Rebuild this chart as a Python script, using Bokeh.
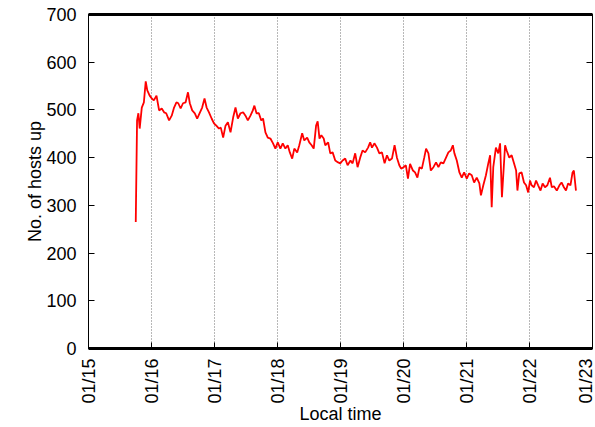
import numpy as np
from bokeh.plotting import figure
from bokeh.models import Range1d, LinearAxis, FixedTicker
from bokeh.embed import file_html
from bokeh.resources import INLINE

# hours since 01/15 00:00
hours = [18.0, 18.5, 19.0, 19.5, 20.3, 21.1, 21.8, 22.4, 23.3, 24.1, 24.9, 25.9,
         26.9, 27.9, 28.8, 29.6, 30.7, 31.7, 32.6, 33.5, 34.2, 35.1, 36.0, 37.0,
         37.9, 38.6, 39.5, 40.5, 41.4, 42.3, 43.3, 44.2, 45.0, 45.9, 46.9, 47.8,
         48.7, 49.7, 50.4, 51.3, 52.2, 53.1, 54.1, 55.1, 56.0, 56.9, 57.9, 58.9,
         59.8, 60.7, 61.7, 62.6, 63.2, 64.0, 64.9, 65.8, 66.5, 67.4, 68.3, 69.3,
         70.3, 71.2, 72.1, 73.1, 74.0, 75.0, 75.9, 76.7, 77.6, 78.4, 79.5, 80.3,
         81.4, 82.2, 83.3, 84.1, 85.0, 85.8, 86.7, 87.3, 88.0, 88.7, 89.6, 90.2,
         91.3, 92.1, 93.0, 94.0, 95.1, 95.9, 96.8, 97.8, 98.7, 99.8, 100.6, 101.6,
         102.5, 103.5, 104.4, 105.4, 106.5, 107.3, 108.0, 108.9, 109.9, 110.8, 111.8,
         112.8, 113.7, 114.6, 115.6, 116.6, 117.5, 118.4, 119.1, 120.0, 120.9, 121.7,
         122.5, 123.6, 124.4, 125.3, 126.1, 127.0, 127.9, 128.6, 129.5, 130.4, 131.4,
         132.4, 133.3, 134.2, 135.2, 136.2, 137.1, 138.0, 138.8, 139.4, 140.3, 141.3,
         142.2, 143.1, 144.1, 145.0, 146.0, 146.9, 147.9, 148.9, 149.5, 150.4, 151.4,
         152.3, 153.0, 153.6, 154.2, 155.2, 156.1, 156.8, 157.5, 158.7, 159.3, 160.3,
         161.2, 162.1, 162.9, 163.4, 164.1, 165.0, 165.9, 166.7, 167.5, 168.2, 168.8,
         169.7, 170.5, 171.3, 172.2, 173.0, 173.9, 174.8, 175.8, 176.5, 177.3, 178.4,
         179.4, 180.2, 181.1, 181.9, 182.7, 183.6, 184.4, 184.9, 185.7]

hosts_up = [265, 478, 493, 461, 505, 516, 560, 541, 530, 524, 520, 530,
            499, 503, 495, 493, 478, 488, 505, 516, 514, 503, 514, 516,
            537, 514, 499, 493, 482, 493, 505, 524, 505, 495, 482, 472,
            467, 461, 463, 442, 467, 474, 453, 484, 505, 482, 493, 495,
            488, 478, 488, 499, 509, 493, 493, 478, 482, 453, 442, 440,
            430, 419, 432, 419, 430, 419, 426, 411, 398, 419, 411, 426,
            451, 436, 442, 432, 426, 419, 467, 476, 440, 447, 440, 426,
            432, 409, 411, 394, 390, 388, 394, 398, 384, 394, 388, 409,
            380, 400, 415, 411, 421, 432, 421, 430, 421, 409, 411,
            388, 405, 394, 398, 426, 400, 384, 377, 380, 384, 356,
            387, 373, 369, 358, 380, 377, 400, 419, 409, 373, 380,
            390, 380, 390, 388, 400, 411, 415, 426, 409, 394, 369,
            358, 369, 356, 367, 363, 348, 358, 346, 321, 342, 363,
            388, 405, 296, 380, 421, 409, 430, 317, 426, 415, 400,
            405, 388, 373, 331, 367, 369, 348, 342, 327, 352, 342,
            338, 352, 342, 331, 346, 338, 342, 358, 338, 340, 331,
            342, 348, 338, 331, 346, 342, 369, 373, 331]

day_ticks = [0, 1, 2, 3, 4, 5, 6, 7, 8]
tick_labels = ["01/15", "01/16", "01/17", "01/18", "01/19",
               "01/20", "01/21", "01/22", "01/23"]
y_ticks = [0, 100, 200, 300, 400, 500, 600, 700]

x_days = [h / 24.0 for h in hours]

FONT = "Liberation Sans"
FS = "18px"

p = figure(width=595, height=427, output_backend="svg", toolbar_location=None,
           x_range=Range1d(0, 8), y_range=Range1d(0, 700),
           min_border_left=88, min_border_right=3, min_border_top=14,
           min_border_bottom=79)
p.outline_line_color = "black"
p.outline_line_width = 1
p.background_fill_color = "white"
p.border_fill_color = "white"

p.line(x_days, hosts_up, line_color="#ff0000", line_width=1.8)

# grid
p.xgrid.ticker = FixedTicker(ticks=day_ticks)
p.xgrid.grid_line_color = "#707070"
p.xgrid.grid_line_dash = "1 2"
p.xgrid.grid_line_width = 1
p.ygrid.visible = False

# bottom axis
xa = p.xaxis[0]
xa.ticker = FixedTicker(ticks=day_ticks)
xa.major_label_overrides = {d: lab for d, lab in zip(day_ticks, tick_labels)}
xa.major_label_orientation = np.pi / 2
xa.major_label_text_font = FONT
xa.major_label_text_font_size = FS
xa.major_label_text_color = "black"
xa.major_label_standoff = 10
xa.axis_label = "Local time"
xa.axis_label_text_font = FONT
xa.axis_label_text_font_size = FS
xa.axis_label_text_font_style = "normal"
xa.axis_label_text_color = "black"
xa.axis_label_standoff = -3
xa.axis_line_width = 3
xa.axis_line_color = "black"
xa.major_tick_in = 6
xa.major_tick_out = 0
xa.major_tick_line_color = "black"
xa.minor_tick_line_color = None

# left axis
ya = p.yaxis[0]
ya.ticker = FixedTicker(ticks=y_ticks)
ya.major_label_text_font = FONT
ya.major_label_text_font_size = FS
ya.major_label_text_color = "black"
ya.major_label_standoff = 12
ya.axis_label = "No. of hosts up"
ya.axis_label_text_font = FONT
ya.axis_label_text_font_size = FS
ya.axis_label_text_font_style = "normal"
ya.axis_label_text_color = "black"
ya.axis_label_standoff = -2
ya.axis_line_width = 1
ya.axis_line_color = "black"
ya.major_tick_in = 6
ya.major_tick_out = 0
ya.major_tick_line_color = "black"
ya.minor_tick_line_color = None

# top border axis (no ticks, no labels)
top = LinearAxis(ticker=FixedTicker(ticks=[]))
top.major_label_standoff = 0
top.axis_line_width = 3
top.axis_line_color = "black"
top.major_tick_line_color = None
top.minor_tick_line_color = None
p.add_layout(top, "above")

# right border axis with inward ticks (labels left empty)
right = LinearAxis(ticker=FixedTicker(ticks=y_ticks))
right.major_label_overrides = {t: "" for t in y_ticks}
right.major_label_standoff = 0
right.axis_line_width = 1
right.axis_line_color = "black"
right.major_tick_in = 6
right.major_tick_out = 0
right.major_tick_line_color = "black"
right.minor_tick_line_color = None
p.add_layout(right, "right")

open("out.html", "w").write(file_html(p, INLINE))
